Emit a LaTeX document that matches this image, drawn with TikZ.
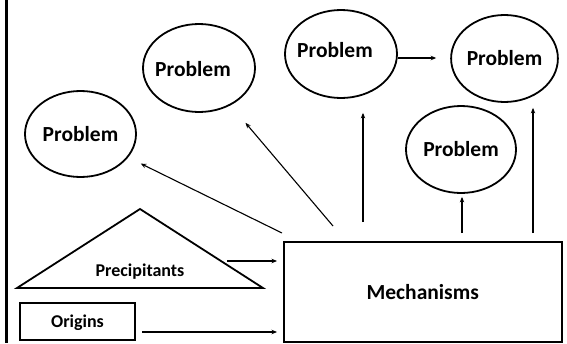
\documentclass[tikz,border=0pt]{standalone}
\usepackage{fontspec}
\setmainfont{Carlito}
\usetikzlibrary{shapes.geometric,arrows.meta}

\tikzset{
  problem/.style={draw, ellipse, line width=1.8pt, inner sep=0pt,
    font=\fontsize{21.5}{24}\selectfont\bfseries},
  offtext/.style={label={[inner sep=0pt, font=\fontsize{21.5}{24}\selectfont\bfseries, #1]center:Problem}},
  box/.style={draw, rectangle, inner sep=0pt, text depth=0pt},
  arr/.style={line width=1.1pt, -{Stealth[length=5.5pt,width=4.5pt]}},
}

\begin{document}
\begin{tikzpicture}[x=1pt,y=-1pt]
\useasboundingbox (0,0) rectangle (567,343);

% frame edge on the left
\draw[line width=3pt] (6.5,0) -- (6.5,343);

% problem ellipses
\node[problem, minimum width=111pt, minimum height=86pt] (probA) at (80.5,134) {Problem};
\node[problem, minimum width=112pt, minimum height=88pt,
  offtext={xshift=-6pt, yshift=-1pt}] (probB) at (199,68) {};
\node[problem, minimum width=112pt, minimum height=88pt,
  offtext={xshift=-6pt, yshift=4pt}] (probC) at (341,54) {};
\node[problem, minimum width=105pt, minimum height=87pt] (probD) at (504.5,58.5) {Problem};
\node[problem, minimum width=110pt, minimum height=87pt] (probE) at (461,149.5) {Problem};

% mechanisms and origins boxes
\node[box, line width=2pt, minimum width=277.5pt, minimum height=99.5pt,
  font=\fontsize{21.5}{24}\selectfont\bfseries] (mech) at (422.75,291.75) {Mechanisms};
\node[box, line width=1.8pt, minimum width=115pt, minimum height=37pt,
  font=\fontsize{18}{20}\selectfont\bfseries] (orig) at (77.5,321.5) {Origins};

% precipitants triangle
\draw[line width=1.8pt, line join=miter] (140,209) -- (263,288) -- (17,288) -- cycle;
\node[anchor=base, inner sep=0pt, font=\fontsize{18}{20}\selectfont\bfseries] (prec) at (140,276) {Precipitants};

% start points of the connectors
\coordinate (sA) at (282,233);
\coordinate (sB) at (333,226);
\coordinate (sC) at (363,222);
\coordinate (sE) at (462,233);
\coordinate (sD) at (533,233);
\coordinate (sP) at (227,261);
\coordinate (sO) at (142,332);
\coordinate (sCD) at (398,58);

% connectors
\draw[arr, shorten >=14pt] (sA) -- (probA);
\draw[arr, shorten >=23pt] (sB) -- (probB);
\draw[arr, shorten >=14pt] (sC) -- (sC |- probC.south);
\draw[arr, shorten >=3pt] (sE) -- (sE |- probE.south);
\draw[arr, shorten >=5pt] (sD) -- (sD |- probD.south);
\draw[arr, shorten >=14pt] (sCD) -- (sCD -| probD.west);
\draw[arr, shorten >=6pt] (sP) -- (sP -| mech.west);
\draw[arr, shorten >=6pt] (sO) -- (sO -| mech.west);
\end{tikzpicture}
\end{document}
